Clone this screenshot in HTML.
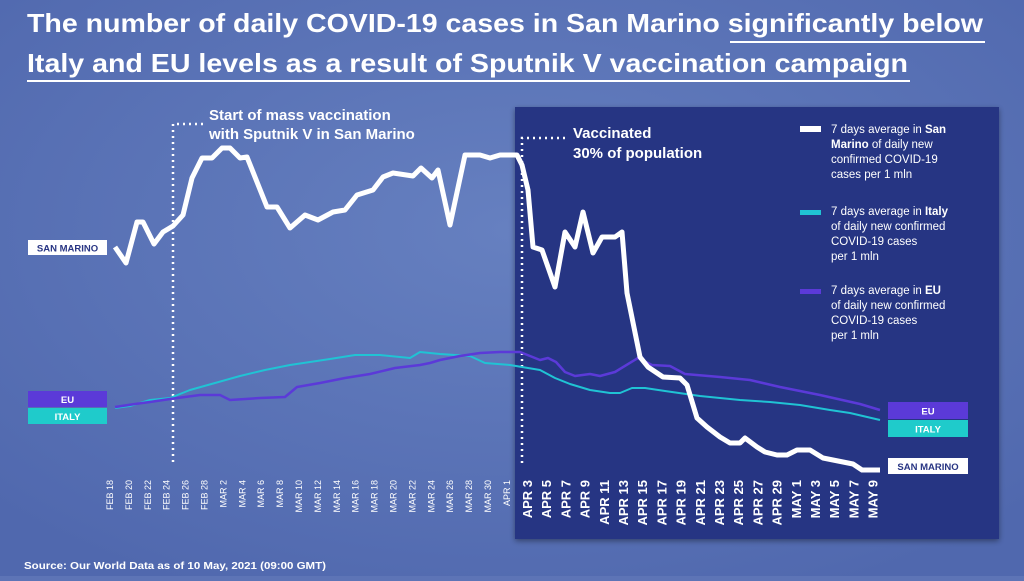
<!DOCTYPE html>
<html><head><meta charset="utf-8"><style>
body{margin:0;width:1024px;height:576px;overflow:hidden;background:#5d74b6;font-family:"Liberation Sans",sans-serif}
</style></head><body>
<svg width="1024" height="576" viewBox="0 0 1024 576" xmlns="http://www.w3.org/2000/svg">
<defs><radialGradient id="g" cx="50%" cy="40%" r="70%"><stop offset="0" stop-color="#6680c0"/><stop offset="1" stop-color="#5068ae"/></radialGradient>
<filter id="sh"><feDropShadow dx="0" dy="2" stdDeviation="3" flood-opacity="0.4"/></filter></defs>
<rect width="1024" height="576" fill="url(#g)"/>
<rect x="515" y="107" width="484" height="432" fill="#283583" filter="url(#sh)"/>
<g font-weight="bold" fill="#fff" font-size="26">
<text x="27" y="32" textLength="956" lengthAdjust="spacingAndGlyphs">The number of daily COVID-19 cases in San Marino significantly below</text>
<text x="27" y="72" textLength="881" lengthAdjust="spacingAndGlyphs">Italy and EU levels as a result of Sputnik V vaccination campaign</text>
</g>
<line x1="730" y1="42" x2="985" y2="42" stroke="#fff" stroke-width="2"/>
<line x1="27" y1="81" x2="910" y2="81" stroke="#fff" stroke-width="2"/>
<g fill="#fff" font-weight="bold" font-size="15">
<text x="209" y="120">Start of mass vaccination</text><text x="209" y="139">with Sputnik V in San Marino</text>
<text x="573" y="138">Vaccinated</text><text x="573" y="158">30% of population</text>
</g>
<g stroke="#fff" stroke-width="2.5" stroke-dasharray="2 4" fill="none">
<polyline points="203,124 173,124 173,466"/>
<polyline points="565,138 522,138 522,466"/>
</g>
<g fill="none" stroke-linejoin="round">
<polyline stroke="#20c3d4" stroke-width="2" points="115,408 130,406 150,400 170,398 190,390 215,383 240,376 265,370 290,365 310,362 330,359 355,355 380,355 410,358 420,352 440,354 470,356 485,363 510,365 540,370 555,378 570,384 590,390 610,393 620,393 632,388 645,388 665,391 700,396 740,400 770,402 800,405 830,410 850,413 880,420"/>
<polyline stroke="#5b3ad8" stroke-width="2.5" points="115,407 135,404 150,402 170,399 200,395 220,395 230,400 260,398 285,397 297,387 320,383 345,378 370,374 395,368 420,365 430,363 440,360 460,356 480,353 500,352 520,352 530,356 540,360 548,358 556,362 565,372 575,376 590,374 600,376 615,372 638,358 652,365 670,366 685,374 720,377 750,380 780,387 820,395 860,404 880,410"/>
<polyline stroke="#fff" stroke-width="5" points="115,247 126,263 137,222 143,222 154,244 163,232 173,226 183,215 192,178 202,158 212,158 222,148 230,148 240,158 247,157 267,207 277,207 290,228 305,215 318,220 333,212 345,210 357,195 373,190 383,177 393,173 413,176 421,168 432,178 438,170 450,225 465,155 480,155 490,158 500,155 517,155 522,165 528,190 533,247 542,250 555,287 565,232 575,247 583,212 593,253 602,237 615,237 622,232 627,293 640,357 648,367 663,377 680,378 687,385 697,418 707,427 720,437 730,443 740,443 745,438 757,447 765,452 777,455 787,455 797,450 810,450 823,458 843,462 853,464 862,470 880,470"/>
</g>
<g font-weight="bold" font-size="9.5" text-anchor="middle">
<rect x="28" y="240" width="79" height="15" fill="#fff"/><text x="67.5" y="251.5" fill="#283583">SAN MARINO</text>
<rect x="28" y="391" width="79" height="16" fill="#5b3ad8"/><text x="67.5" y="403" fill="#fff">EU</text>
<rect x="28" y="408" width="79" height="16" fill="#1fcbcb"/><text x="67.5" y="420" fill="#fff">ITALY</text>
<rect x="888" y="402" width="80" height="17" fill="#5b3ad8"/><text x="928" y="414.5" fill="#fff">EU</text>
<rect x="888" y="420" width="80" height="17" fill="#1fcbcb"/><text x="928" y="432.5" fill="#fff">ITALY</text>
<rect x="888" y="458" width="80" height="16" fill="#fff"/><text x="928" y="470" fill="#283583">SAN MARINO</text>
</g>
<g fill="#fff">
<rect x="800" y="126" width="21" height="6"/><rect x="800" y="210" width="21" height="5" fill="#20c3d4"/><rect x="800" y="289" width="21" height="5" fill="#5b3ad8"/>
<g font-size="11.5"><text x="831" y="133">7 days average in <tspan font-weight="bold">San</tspan></text><text x="831" y="148"><tspan font-weight="bold">Marino</tspan> of daily new</text><text x="831" y="163">confirmed COVID-19</text><text x="831" y="178">cases per 1 mln</text>
<text x="831" y="215">7 days average in <tspan font-weight="bold">Italy</tspan></text><text x="831" y="230">of daily new confirmed</text><text x="831" y="245">COVID-19 cases</text><text x="831" y="260">per 1 mln</text>
<text x="831" y="294">7 days average in <tspan font-weight="bold">EU</tspan></text><text x="831" y="309">of daily new confirmed</text><text x="831" y="324">COVID-19 cases</text><text x="831" y="339">per 1 mln</text></g>
<text x="24" y="569" font-size="10.5" font-weight="bold" textLength="302" lengthAdjust="spacingAndGlyphs">Source: Our World Data as of 10 May, 2021 (09:00 GMT)</text>
</g>
<g fill="#fff" font-size="9" text-anchor="end" id="xl1"></g>
<g fill="#fff" font-size="13" font-weight="bold" text-anchor="end" id="xl2"></g>
<script>
var a=["FEB 18","FEB 20","FEB 22","FEB 24","FEB 26","FEB 28","MAR 2","MAR 4","MAR 6","MAR 8","MAR 10","MAR 12","MAR 14","MAR 16","MAR 18","MAR 20","MAR 22","MAR 24","MAR 26","MAR 28","MAR 30","APR 1"];
var b=["APR 3","APR 5","APR 7","APR 9","APR 11","APR 13","APR 15","APR 17","APR 19","APR 21","APR 23","APR 25","APR 27","APR 29","MAY 1","MAY 3","MAY 5","MAY 7","MAY 9"];
var ns="http://www.w3.org/2000/svg";
function add(g,arr,x0,st,y){var el=document.getElementById(g);arr.forEach(function(t,i){var x=x0+i*st;var e=document.createElementNS(ns,"text");e.setAttribute("transform","translate("+x+","+y+") rotate(-90)");e.textContent=t;el.appendChild(e);});}
add("xl1",a,113,18.9,480);add("xl2",b,532,19.2,480);
</script>
</svg>
</body></html>
